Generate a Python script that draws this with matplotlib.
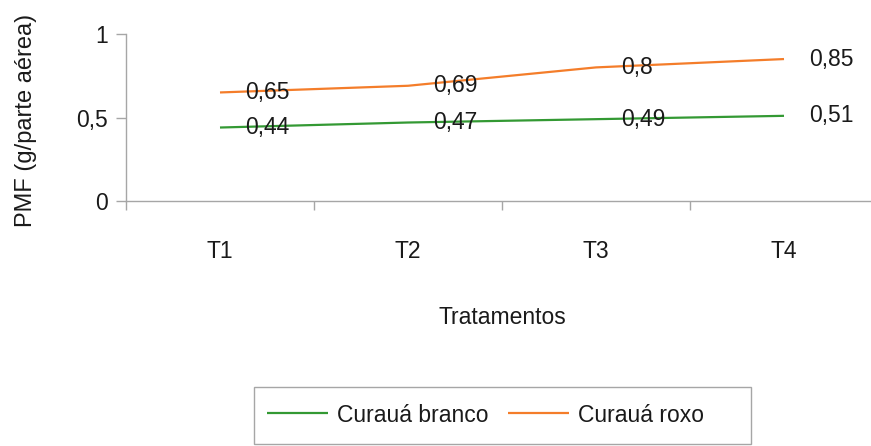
import matplotlib
matplotlib.use('Agg')
import matplotlib.pyplot as plt
from matplotlib.patches import Rectangle

# Data
tratamentos = ['T1', 'T2', 'T3', 'T4']
curaua_branco = [0.44, 0.47, 0.49, 0.51]
curaua_roxo = [0.65, 0.69, 0.80, 0.85]
y_ticks = [0, 0.5, 1]
y_tick_labels = ['0', '0,5', '1']


def fmt(v):
    return f'{v:g}'.replace('.', ',')


plt.rcParams['font.family'] = ['Liberation Sans', 'DejaVu Sans']
FS = 16.5
GRAY = '#a6a6a6'
GREEN = '#339933'
ORANGE = '#f47d2a'
TXT = '#1a1a1a'

W, H = 871, 446
fig = plt.figure(figsize=(W / 100, H / 100), dpi=100)
fig.patch.set_facecolor('white')

# axes box in pixel terms: x from 126 to 878, y=0 at 201, y=1 at 34
ax = fig.add_axes([126 / W, (H - 201) / H, 752 / W, 167 / H])
ax.set_facecolor('white')

x = list(range(len(tratamentos)))
ax.plot(x, curaua_branco, color=GREEN, lw=1.6, label='Curauá branco',
        solid_capstyle='butt')
ax.plot(x, curaua_roxo, color=ORANGE, lw=1.6, label='Curauá roxo',
        solid_capstyle='butt')

for xi, v in zip(x, curaua_branco):
    ax.annotate(fmt(v), (xi, v), xytext=(18, 0), textcoords='offset points',
                ha='left', va='center', fontsize=FS, color=TXT)
for xi, v in zip(x, curaua_roxo):
    ax.annotate(fmt(v), (xi, v), xytext=(18, 0), textcoords='offset points',
                ha='left', va='center', fontsize=FS, color=TXT)

ax.set_xlim(-0.5, 3.5)
ax.set_ylim(0, 1)

# category boundaries as major ticks, labels on minor ticks
ax.set_xticks([-0.5, 0.5, 1.5, 2.5, 3.5])
ax.set_xticklabels([])
ax.set_xticks(x, minor=True)
ax.set_xticklabels(tratamentos, minor=True, fontsize=FS, color=TXT)
ax.tick_params(axis='x', which='major', length=6.5, width=1, color=GRAY,
               direction='out')
ax.tick_params(axis='x', which='minor', length=0, pad=28)

ax.set_yticks(y_ticks)
ax.set_yticklabels(y_tick_labels, fontsize=FS, color=TXT)
ax.tick_params(axis='y', length=7, width=1, color=GRAY, direction='out', pad=6)

for side in ['top', 'right']:
    ax.spines[side].set_visible(False)
for side in ['left', 'bottom']:
    ax.spines[side].set_color(GRAY)
    ax.spines[side].set_linewidth(1)

ax.set_ylabel('PMF (g/parte aérea)', fontsize=17, color=TXT)
ax.yaxis.set_label_coords(-0.118, 0.48)
ax.set_xlabel('Tratamentos', fontsize=FS, color=TXT)
ax.xaxis.set_label_coords(0.5, -0.63)

# legend box
fig.patches.append(Rectangle((254 / W, 1 - 444 / H), 497 / W, 57 / H,
                             transform=fig.transFigure, fill=False,
                             edgecolor=GRAY, lw=1))
fig.legend(loc='center left', bbox_to_anchor=(267 / W, 1 - 415 / H),
           ncol=2, frameon=False, fontsize=FS, borderpad=0, borderaxespad=0,
           handlelength=2.65, handletextpad=0.4, columnspacing=0.87,
           labelcolor=TXT)

plt.savefig('out.png', dpi=100, facecolor='white')
